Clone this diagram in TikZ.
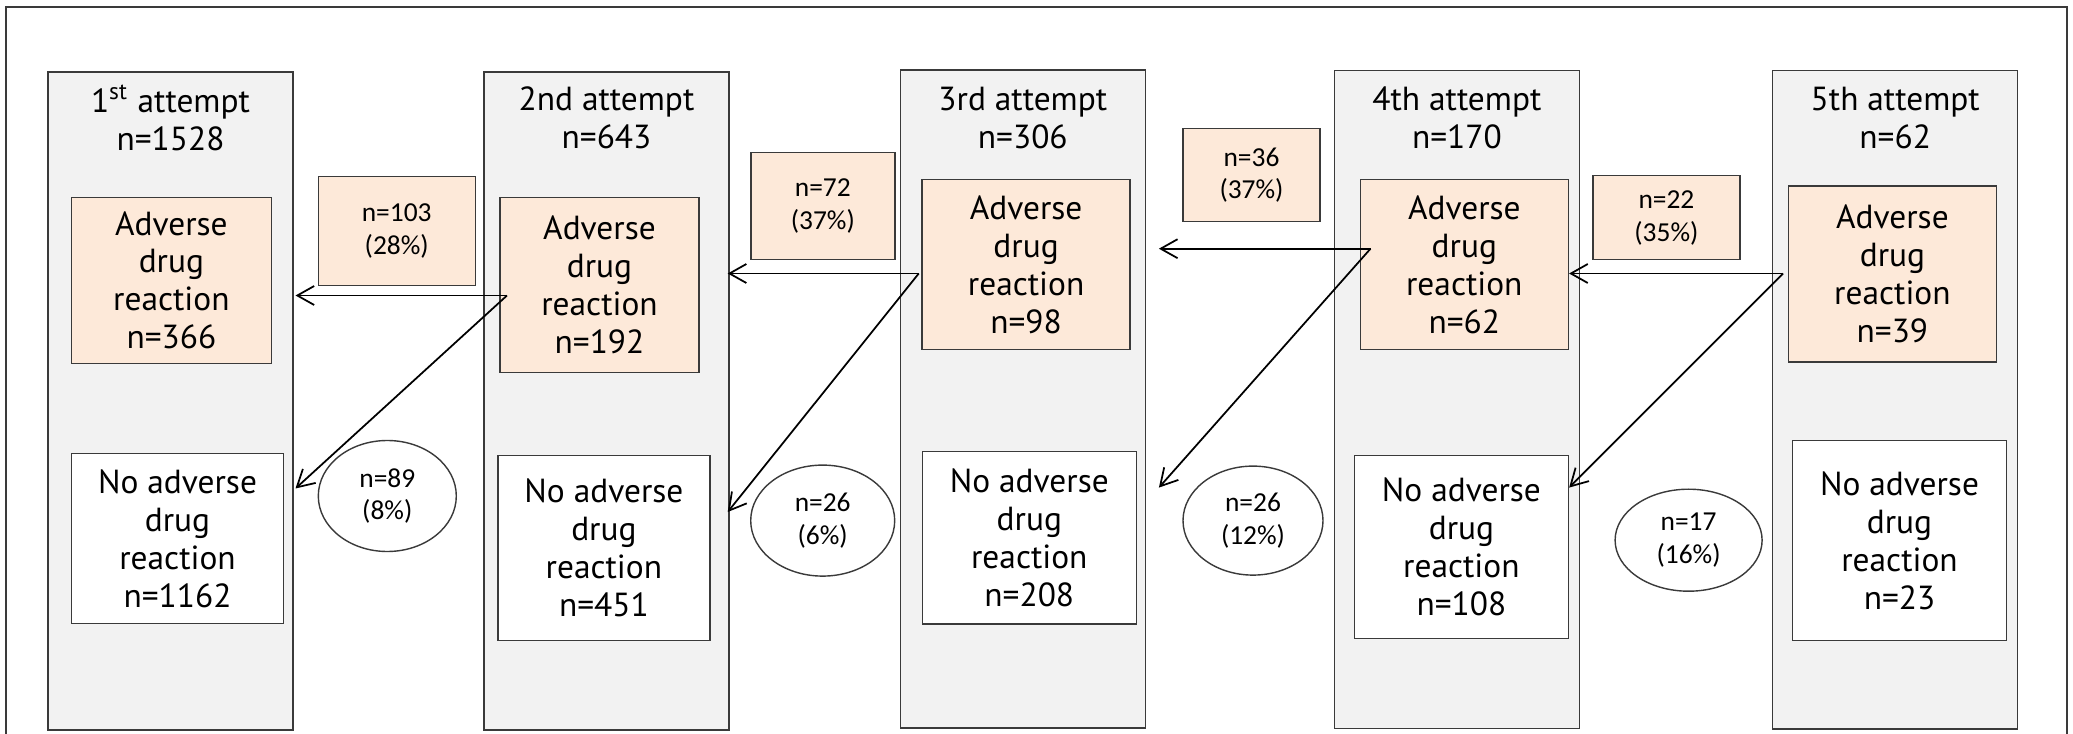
\documentclass[tikz,border=0pt]{standalone}
\usepackage{fontspec}
\setmainfont{PT Sans}
\newfontfamily\lblfont{Carlito}
\usepackage{tikz}
\usetikzlibrary{arrows.meta,shapes.geometric,positioning}
\definecolor{colgray}{HTML}{F2F2F2}
\definecolor{peach}{HTML}{FDE9D9}
\definecolor{boxline}{HTML}{3A3A3A}
\newcommand{\mainsize}{\fontsize{9.5}{10.8}\selectfont}
\newcommand{\lblsize}{\lblfont\fontsize{7.8}{9.3}\selectfont}
\tikzstyle{attempt} = [draw=boxline, fill=colgray, rectangle,
minimum width=2.45cm, minimum height=6.58cm]
\tikzstyle{title} = [align=center, inner sep=0pt]
\tikzstyle{adr} = [draw=boxline, fill=peach, rectangle, align=center, inner sep=0pt]
\tikzstyle{noadr} = [draw=boxline, fill=white, rectangle, align=center, inner sep=0pt]
\tikzstyle{share} = [draw=boxline, fill=peach, rectangle, align=center, inner sep=0pt, font=\lblsize]
\tikzstyle{shareell} = [draw=boxline, fill=white, ellipse, align=center, inner sep=0pt, font=\lblsize]

\begin{document}
\begin{tikzpicture}[font=\mainsize, line width=0.4pt, >={Straight Barb[length=4.8pt,width=5.4pt]}]
\useasboundingbox (0,0) rectangle (20.73,7.33);

\draw [boxline] (0.06,-0.2) -- (0.06,7.26) -- (20.67,7.26) -- (20.67,-0.2);

% the five attempts
\node [attempt] (col1) at (1.705,3.32) {};
\node [attempt] (col2) at (6.065,3.32) {};
\node [attempt] (col3) at (10.228,3.34) {};
\node [attempt] (col4) at (14.569,3.335) {};
\node [attempt] (col5) at (18.952,3.332) {};

\node [title] (t1) at (1.705,6.15) {1\textsuperscript{st} attempt\\n=1528};
\node [title] (t2) at (6.065,6.15) {2nd attempt\\n=643};
\node [title] (t3) at (10.228,6.15) {3rd attempt\\n=306};
\node [title] (t4) at (14.569,6.15) {4th attempt\\n=170};
\node [title] (t5) at (18.952,6.15) {5th attempt\\n=62};

\node [adr, minimum width=2.00cm, minimum height=1.66cm] (ad1) at (1.714,4.527) {Adverse\\drug\\reaction\\n=366};
\node [adr, minimum width=1.99cm, minimum height=1.75cm] (ad2) at (5.995,4.478) {Adverse\\drug\\reaction\\n=192};
\node [adr, minimum width=2.08cm, minimum height=1.70cm] (ad3) at (10.261,4.686) {Adverse\\drug\\reaction\\n=98};
\node [adr, minimum width=2.08cm, minimum height=1.70cm] (ad4) at (14.643,4.686) {Adverse\\drug\\reaction\\n=62};
\node [adr, minimum width=2.08cm, minimum height=1.76cm] (ad5) at (18.924,4.588) {Adverse\\drug\\reaction\\n=39};

\node [noadr, minimum width=2.12cm, minimum height=1.70cm] (na1) at (1.775,1.946) {No adverse\\drug\\reaction\\n=1162};
\node [noadr, minimum width=2.12cm, minimum height=1.85cm] (na2) at (6.039,1.848) {No adverse\\drug\\reaction\\n=451};
\node [noadr, minimum width=2.14cm, minimum height=1.725cm] (na3) at (10.293,1.951) {No adverse\\drug\\reaction\\n=208};
\node [noadr, minimum width=2.14cm, minimum height=1.83cm] (na4) at (14.614,1.858) {No adverse\\drug\\reaction\\n=108};
\node [noadr, minimum width=2.14cm, minimum height=2.00cm] (na5) at (18.995,1.923) {No adverse\\drug\\reaction\\n=23};

% shares between attempts
\node [share, minimum width=1.57cm, minimum height=1.085cm] (lb1) at (3.967,5.02) {n=103\\(28\%)};
\node [share, minimum width=1.44cm, minimum height=1.07cm] (lb2) at (8.228,5.268) {n=72\\(37\%)};
\node [share, minimum width=1.37cm, minimum height=0.93cm] (lb3) at (12.515,5.577) {n=36\\(37\%)};
\node [share, minimum width=1.47cm, minimum height=0.84cm] (lb4) at (16.664,5.153) {n=22\\(35\%)};

\node [shareell, minimum width=1.38cm, minimum height=1.11cm] (el1) at (3.873,2.37) {n=89\\(8\%)};
\node [shareell, minimum width=1.44cm, minimum height=1.11cm] (el2) at (8.227,2.124) {n=26\\(6\%)};
\node [shareell, minimum width=1.40cm, minimum height=1.09cm] (el3) at (12.53,2.124) {n=26\\(12\%)};
\node [shareell, minimum width=1.47cm, minimum height=1.02cm] (el4) at (16.886,1.928) {n=17\\(16\%)};

\coordinate (s1) at (5.07,4.375);
\coordinate (h1) at (2.955,4.375);
\coordinate (d1) at (2.955,2.445);
\coordinate (s2) at (9.1875,4.595);
\coordinate (h2) at (7.277,4.595);
\coordinate (d2) at (7.277,2.21);
\coordinate (s3) at (13.705,4.843);
\coordinate (h3) at (11.589,4.843);
\coordinate (d3) at (11.589,2.454);
\coordinate (s4) at (17.83,4.595);
\coordinate (h4) at (15.691,4.595);
\coordinate (d4) at (15.691,2.454);

\draw [->, line width=0.5pt] (s1) -- (h1);
\draw [->, line width=0.5pt] (s1) -- (d1);
\draw [->, line width=0.5pt] (s2) -- (h2);
\draw [->, line width=0.5pt] (s2) -- (d2);
\draw [->, line width=0.5pt] (s3) -- (h3);
\draw [->, line width=0.5pt] (s3) -- (d3);
\draw [->, line width=0.5pt] (s4) -- (h4);
\draw [->, line width=0.5pt] (s4) -- (d4);
\end{tikzpicture}
\end{document}
